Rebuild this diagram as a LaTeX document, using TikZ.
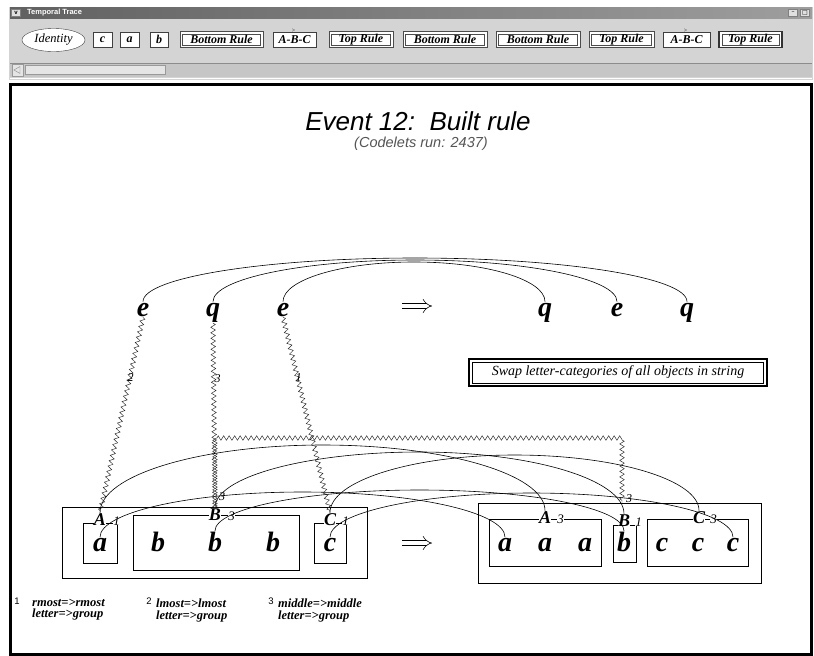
\documentclass[tikz,border=0pt]{standalone}
\usepackage{fontspec}
\setmainfont{Liberation Serif}
\newfontfamily\sansf{Liberation Sans}
\newfontfamily\dvs{DejaVu Sans}
\usetikzlibrary{decorations.pathmorphing,arrows.meta,calc,shapes.geometric}
\definecolor{winbg}{RGB}{212,212,212}
\definecolor{track}{RGB}{198,198,198}
\definecolor{subgray}{RGB}{85,85,85}
\tikzset{
  topl/.style={font=\bfseries\itshape\fontsize{28}{28}\selectfont, inner sep=1pt, anchor=base},
  botl/.style={font=\bfseries\itshape\fontsize{28}{28}\selectfont, inner sep=0.5pt, anchor=base},
  grp/.style={font=\bfseries\itshape\fontsize{18}{18}\selectfont, inner sep=0.3pt, fill=white, anchor=base},
  grpn/.style={font=\itshape\fontsize{13}{13}\selectfont, inner sep=0.3pt, fill=white, anchor=base},
  sbox/.style={draw, line width=0.7pt, inner sep=0pt},
  crv/.style={line width=0.6pt},
  snk/.style={decorate, decoration={zigzag, amplitude=2.3pt, segment length=5.5pt}, line width=0.45pt, draw=black!85},
  snl/.style={font=\itshape\fontsize{12}{12}\selectfont, inner sep=0.5pt},
  hump/.style={to path={let \p1=(\tikztostart), \p2=(\tikztotarget), \n1={(\x2-\x1)/2} in
     arc[start angle=180, end angle=90, x radius=\n1, y radius={-#1-(\y1)}]
     arc[start angle=90, end angle=0, x radius=\n1, y radius={-#1-(\y2)}]}},
  impl/.style={double, double distance=4.5pt, line width=0.6pt, -{Implies}},
  btn/.style={draw=black!75, fill=white, line width=0.6pt, minimum height=15pt, inner sep=0pt, font=\bfseries\itshape\fontsize{12}{12}\selectfont},
  dbo/.style={draw=black!70, fill=white, line width=0.8pt, minimum height=16pt, inner sep=0pt},
  dbi/.style={draw=black!70, line width=0.5pt, minimum height=11.5pt, inner sep=0pt, font=\bfseries\itshape\fontsize{12}{12}\selectfont},
  lg/.style={font=\bfseries\itshape\fontsize{12.5}{11.5}\selectfont, align=left, inner sep=0pt, anchor=north west},
  lgn/.style={font=\sansf\fontsize{9.5}{9.5}\selectfont, inner sep=0pt},
  wbtn/.style={draw=black!50, fill=black!12, minimum width=9pt, minimum height=7pt, inner sep=0pt},
}
\begin{document}
\begin{tikzpicture}[x=1pt,y=1pt]
\useasboundingbox (0,0) rectangle (814,-656);
\fill[white] (0,0) rectangle (814,-656);
% ---------- window chrome ----------
\fill[winbg] (9,-7) rectangle (813,-80);
\shade[left color=black!62, right color=black!38] (10,-7) rectangle (812,-18);
\node[wbtn, font=\sansf\bfseries\fontsize{6}{6}\selectfont] (wmenu) at (16,-12.5) {v};
\node[font=\sansf\bfseries\fontsize{7.5}{7.5}\selectfont, text=white, anchor=west, inner sep=0pt] (wtitle) at (27,-12.5) {Temporal Trace};
\node[wbtn, font=\dvs\fontsize{6}{6}\selectfont] (wmin) at (793,-12.5) {–};
\node[wbtn, font=\dvs\fontsize{6}{6}\selectfont] (wmax) at (805,-12.5) {□};
% scrollbar
\fill[track] (10,-63) rectangle (812,-77);
\draw[black!45] (10,-63) -- (812,-63);
\draw[white, line width=1pt] (10,-78.5) -- (812,-78.5);
\node[draw=black!40, fill=black!10, minimum width=140pt, minimum height=9pt, inner sep=0pt] (thumb) at (95,-69.5) {};
\node[draw=black!40, fill=black!10, minimum width=11pt, minimum height=12pt, inner sep=0pt] (larrow) at (18,-70) {};
\node[draw=black!45, isosceles triangle, isosceles triangle apex angle=60, shape border rotate=180, inner sep=0pt, minimum height=6pt, minimum width=7pt] (ltri) at (18,-70) {};
% canvas frame
\draw[line width=3pt] (10.5,-84.5) rectangle (811.5,-654.5);
% ---------- toolbar ----------
\node[draw=black!75, fill=white, ellipse, minimum width=63pt, minimum height=23pt, inner sep=0pt, font=\itshape\fontsize{12.5}{12.5}\selectfont] (tbId) at (53.5,-40) {Identity};
\node[btn, minimum width=19pt] (tbc) at (102.5,-39.5) {c};
\node[btn, minimum width=19pt] (tba) at (129.5,-39.5) {a};
\node[btn, minimum width=18pt] (tbb) at (159,-39.5) {b};
\node[dbo, minimum width=83pt] (tb1o) at (221.5,-39.5) {};
\node[dbi, minimum width=78pt] (tb1) at (221.5,-39.5) {Bottom Rule};
\node[btn, minimum width=43pt] (tb2) at (294.5,-39.5) {A-B-C};
\node[font=\fontsize{6}{6}\selectfont, inner sep=0pt] (tb2a) at (293.5,-30.5) {>};
\node[dbo, minimum width=64pt] (tb3o) at (361,-39.5) {};
\node[dbi, minimum width=59pt] (tb3) at (361,-39.5) {Top Rule};
\node[dbo, minimum width=84pt] (tb4o) at (445,-39.5) {};
\node[dbi, minimum width=79pt] (tb4) at (445,-39.5) {Bottom Rule};
\node[dbo, minimum width=84pt] (tb5o) at (538,-39.5) {};
\node[dbi, minimum width=79pt] (tb5) at (538,-39.5) {Bottom Rule};
\node[dbo, minimum width=65pt] (tb6o) at (621.5,-39.5) {};
\node[dbi, minimum width=60pt] (tb6) at (621.5,-39.5) {Top Rule};
\node[btn, minimum width=47pt] (tb7) at (686.5,-39.5) {A-B-C};
\node[font=\fontsize{6}{6}\selectfont, inner sep=0pt] (tb7a) at (685.5,-30.5) {>};
\node[dbo, minimum width=63pt, line width=1.5pt, draw=black!80] (tb8o) at (750.5,-39.5) {};
\node[dbi, minimum width=57pt] (tb8) at (750.5,-39.5) {Top Rule};
% ---------- title ----------
\node[font=\sansf\itshape\fontsize{26}{26}\selectfont, anchor=base] (title) at (418,-130) {Event 12:\ \ Built rule};
\node[font=\sansf\itshape\fontsize{14.5}{14.5}\selectfont, text=subgray, anchor=base] (sub) at (421,-147) {(Codelets run: 2437)};
% ---------- rule strings ----------
\node[topl] (e1) at (143,-316) {e};
\node[topl] (q1) at (213,-316) {q};
\node[topl] (e2) at (283,-316) {e};
\node[topl] (q2) at (545,-316) {q};
\node[topl] (e3) at (617,-316) {e};
\node[topl] (q3) at (687,-316) {q};
\coordinate (imp1w) at (402,-306);
\coordinate (imp1e) at (432,-306);
\draw[impl] (imp1w) -- (imp1e);
\draw[crv] (e1.north) to[hump=258] (q3.north);
\draw[crv] (q1.north) to[hump=260] (e3.north);
\draw[crv] (e2.north) to[hump=262] (q2.north);
% rule box
\node[draw, line width=1.6pt, minimum width=298pt, minimum height=27pt] (ruleo) at (618,-372.5) {};
\node[draw, line width=0.6pt, minimum width=291pt, minimum height=21pt, font=\itshape\fontsize{14}{14}\selectfont] (rule) at (618,-372.5) {Swap letter-categories of all objects in string};
% ---------- bottom strings ----------
\node[sbox, minimum width=305pt, minimum height=71pt] (Lbig) at (214.5,-542.5) {};
\node[sbox, minimum width=34pt, minimum height=40pt] (Labox) at (100,-543) {};
\node[sbox, minimum width=166pt, minimum height=55pt] (Lbbox) at (216,-542.5) {};
\node[sbox, minimum width=32pt, minimum height=40pt] (Lcbox) at (330,-543) {};
\node[sbox, minimum width=283pt, minimum height=80pt] (Rbig) at (619.5,-543) {};
\node[sbox, minimum width=112pt, minimum height=47pt] (Rabox) at (545,-542.5) {};
\node[sbox, minimum width=23pt, minimum height=37pt] (Rbbox) at (624.5,-543.5) {};
\node[sbox, minimum width=101pt, minimum height=47pt] (Rcbox) at (697.5,-542.5) {};
% group labels
\node[grp] (LA) at (100,-525) {A}; \node[grpn] (LA1) at (116.5,-525) {1};
\node[grp] (LB) at (215,-520) {B}; \node[grpn] (LB1) at (231.5,-520) {3};
\node[grp] (LC) at (330,-525) {C}; \node[grpn] (LC1) at (345.5,-525) {1};
\node[grp] (RA) at (545,-523) {A}; \node[grpn] (RA1) at (560.5,-523) {3};
\node[grp] (RB) at (624,-526) {B}; \node[grpn] (RB1) at (638.5,-526) {1};
\node[grp] (RC) at (699,-523) {C}; \node[grpn] (RC1) at (713.5,-523) {3};
% letters
\node[botl] (La) at (100,-551) {a};
\node[botl] (Lb1) at (158,-551) {b};
\node[botl] (Lb2) at (215,-551) {b};
\node[botl] (Lb3) at (273,-551) {b};
\node[botl] (Lc) at (330,-551) {c};
\node[botl] (Ra1) at (505,-551) {a};
\node[botl] (Ra2) at (545,-551) {a};
\node[botl] (Ra3) at (585,-551) {a};
\node[botl] (Rb) at (624,-551) {b};
\node[botl] (Rc1) at (662,-551) {c};
\node[botl] (Rc2) at (698,-551) {c};
\node[botl] (Rc3) at (733,-551) {c};
\coordinate (imp2w) at (402,-543);
\coordinate (imp2e) at (432,-543);
\draw[impl] (imp2w) -- (imp2e);
% correspondences (arcs)
\draw[crv] (LA.north) to[hump=445] (RA.north);
\draw[crv] (LB.north) to[hump=452] (RB.north);
\draw[crv] (LC.north) to[hump=455] (RC.north);
\draw[crv] (La.north) to[hump=492] (Ra1.north);
\draw[crv] (Lb2.north) to[hump=490] (Rb.north);
\draw[crv] (Lc.north) to[hump=493] (Rc3.north);
% zigzag links
\draw[snk] (e1.south) -- node[snl, pos=.31, xshift=1pt] {2} (LA.north);
\draw[snk] (q1.south) -- node[snl, pos=.3, xshift=4pt] {3} (LB.north);
\draw[snk] (e2.south) -- node[snl, pos=.31, xshift=1pt] {1} (LC.north);
\coordinate (rsTop) at (420,-438);
\coordinate (rsEnd) at (622,-503);
\draw[snk] (LB.north) |- (rsTop) -| (rsEnd);
\node[snl] (rsB3) at (222,-497) {3};
\node[snl] (rs3) at (629,-499) {3};
% ---------- legend ----------
\node[lgn] (n1) at (17,-601) {1};
\node[lg] (lg1) at (32,-599) {rmost=>rmost\\letter=>group};
\node[lgn] (n2) at (149,-601) {2};
\node[lg] (lg2) at (156,-599) {lmost=>lmost\\letter=>group};
\node[lgn] (n3) at (271,-601) {3};
\node[lg] (lg3) at (278,-599) {middle=>middle\\letter=>group};
\end{tikzpicture}
\end{document}
